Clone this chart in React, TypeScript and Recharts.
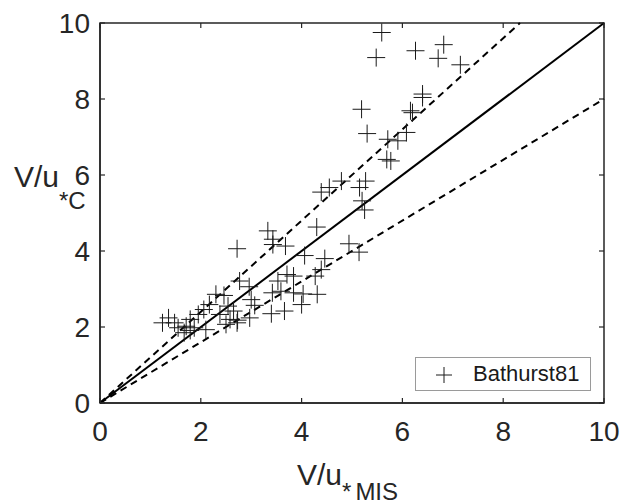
import React from 'react';
import { ScatterChart, Scatter, XAxis, YAxis, ReferenceLine, ReferenceArea } from 'recharts';

const xTicks = [0, 2, 4, 6, 8, 10];
const yTicks = [0, 2, 4, 6, 8, 10];

// 1:1 line and the +/-20% bands
const slopes = [1, 1.2, 0.8];

const bathurstX = [
  5.59, 5.48, 6.26, 6.82, 6.71, 7.15, 6.40, 6.40, 5.19, 6.16, 6.20, 5.30, 5.71, 5.91, 6.08,
  5.69, 5.77, 4.39, 4.55, 4.79, 5.15, 5.27, 5.20, 5.25, 4.30, 3.33, 3.43, 3.43, 3.68, 2.72,
  4.94, 5.14, 4.06, 4.46, 4.39, 4.27, 3.71, 3.84, 3.53, 4.31, 4.03, 3.84, 3.42, 3.59, 4.00,
  3.66, 3.40, 2.77, 2.96, 3.00, 3.07, 2.97, 2.73, 2.58, 2.54, 2.65, 2.46, 2.30, 2.17, 2.06,
  1.95, 1.79, 1.79, 1.71, 1.67, 1.87, 2.10, 1.36, 1.24, 1.48, 1.55, 2.72, 2.38, 2.50,
];
const bathurstY = [
  9.75, 9.09, 9.27, 9.43, 9.07, 8.90, 8.13, 8.04, 7.73, 7.69, 7.64, 7.09, 6.94, 6.90, 7.12,
  6.41, 6.37, 5.55, 5.67, 5.84, 5.67, 5.84, 5.32, 5.08, 4.63, 4.53, 4.31, 4.17, 4.13, 4.06,
  4.19, 3.97, 3.88, 3.80, 3.51, 3.34, 3.38, 3.34, 3.21, 2.86, 2.87, 2.90, 2.90, 2.94, 2.59,
  2.42, 2.35, 3.21, 3.06, 2.72, 2.57, 2.24, 2.18, 2.20, 2.55, 2.42, 2.83, 2.86, 2.59, 2.46,
  2.33, 2.20, 1.91, 2.02, 1.85, 1.98, 1.93, 2.24, 2.11, 2.11, 1.98, 2.11, 2.33, 2.07,
];

const data = bathurstX.map((x, i) => ({ x, y: bathurstY[i] }));

const FONT = '"Liberation Sans", Arial, Helvetica, sans-serif';
const AXIS = '#262626';
const TICK_LEN = 5;
const PLOT_W = 504;
const PLOT_H = 380;

// inward ticks on bottom + mirrored on top (matlab box)
const BottomTick = (props: any) => {
  const { x, y, payload } = props;
  return (
    <g>
      <line x1={x} y1={y} x2={x} y2={y - TICK_LEN} stroke={AXIS} strokeWidth={1.2} />
      <line x1={x} y1={y - PLOT_H} x2={x} y2={y - PLOT_H + TICK_LEN} stroke={AXIS} strokeWidth={1.2} />
      <text x={x} y={y + 38} textAnchor="middle" fontSize={28} fontFamily={FONT} fill={AXIS}>
        {payload.value}
      </text>
    </g>
  );
};

const LeftTick = (props: any) => {
  const { x, y, payload } = props;
  return (
    <g>
      <line x1={x} y1={y} x2={x + TICK_LEN} y2={y} stroke={AXIS} strokeWidth={1.2} />
      <line x1={x + PLOT_W} y1={y} x2={x + PLOT_W - TICK_LEN} y2={y} stroke={AXIS} strokeWidth={1.2} />
      <text x={x - 10} y={y + 10} textAnchor="end" fontSize={28} fontFamily={FONT} fill={AXIS}>
        {payload.value}
      </text>
    </g>
  );
};

const Cross = (props: any) => {
  const { cx, cy } = props;
  const h = 9;
  return (
    <g stroke="#1a1a1a" strokeWidth={1}>
      <line x1={cx - h} y1={cy} x2={cx + h} y2={cy} />
      <line x1={cx} y1={cy - h} x2={cx} y2={cy + h} />
    </g>
  );
};

export default function App() {
  return (
    <div style={{ position: 'absolute', left: 0, top: 0, width: 622, height: 501, background: '#fff' }}>
      <ScatterChart width={622} height={501} margin={{ top: 23, right: 18, bottom: 97, left: 99 }}>
        <XAxis
          type="number" dataKey="x" domain={[0, 10]} ticks={xTicks} interval={0}
          height={1} tickSize={0} tickMargin={0} tickLine={false}
          axisLine={{ stroke: AXIS, strokeWidth: 1.5 }} tick={<BottomTick />}
        />
        <YAxis
          type="number" dataKey="y" domain={[0, 10]} ticks={yTicks} interval={0}
          width={1} tickSize={0} tickMargin={0} tickLine={false}
          axisLine={{ stroke: AXIS, strokeWidth: 1.5 }} tick={<LeftTick />}
        />
        {/* box around the axes */}
        <ReferenceArea
          x1={0} x2={10} y1={0} y2={10}
          fill="none" fillOpacity={0} stroke={AXIS} strokeWidth={1.5} strokeOpacity={1}
          ifOverflow="visible"
        />
        {slopes.map((s, i) => (
          <ReferenceLine
            key={i}
            segment={[{ x: 0, y: 0 }, { x: Math.min(10, 10 / s), y: Math.min(10, 10 * s) }]}
            stroke="#000"
            strokeWidth={2}
            strokeDasharray={i === 0 ? undefined : '7 5'}
            ifOverflow="visible"
          />
        ))}
        <Scatter data={data} shape={<Cross />} isAnimationActive={false} />
      </ScatterChart>

      <svg
        width={622} height={501}
        style={{ position: 'absolute', left: 0, top: 0, pointerEvents: 'none' }}
        fontFamily={FONT} fill={AXIS}
      >
        <text x={14} y={187} fontSize={30}>
          V/u<tspan fontSize={24} dy={22}>*C</tspan>
        </text>
        <text x={297} y={485} fontSize={30}>
          V/u<tspan fontSize={24} dy={15}>*</tspan><tspan fontSize={24} dx={4}>MIS</tspan>
        </text>
      </svg>

      <div
        style={{
          position: 'absolute', left: 415, top: 357, width: 174, height: 32,
          border: '1px solid #9a9a9a', background: '#fff',
          fontFamily: FONT, fontSize: 22, color: '#1a1a1a',
        }}
      >
        <svg width={50} height={32} style={{ position: 'absolute', left: 0, top: 0 }}>
          <line x1={20} y1={17} x2={36} y2={17} stroke="#1a1a1a" />
          <line x1={28} y1={9} x2={28} y2={25} stroke="#1a1a1a" />
        </svg>
        <span style={{ position: 'absolute', left: 57, top: 3, lineHeight: '26px' }}>Bathurst81</span>
      </div>
    </div>
  );
}
